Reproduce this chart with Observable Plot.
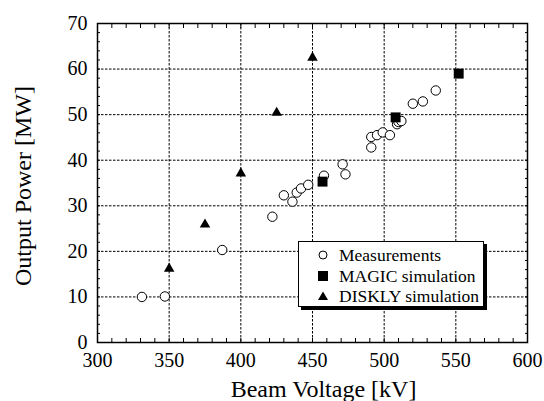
<!DOCTYPE html>
<html>
<head>
<meta charset="utf-8">
<script src="https://cdn.jsdelivr.net/npm/d3@7"></script>
<script src="https://cdn.jsdelivr.net/npm/@observablehq/plot@0.6"></script>
<style>
  html, body { margin: 0; padding: 0; background: #fff; }
  #wrap { position: relative; width: 544px; height: 401px; }
  #legend {
    position: absolute; left: 298px; top: 241px; width: 184px; height: 64px;
    border: 1.5px solid #000; background: #fff; box-shadow: 3px 3px 0 #000;
    font-family: "Liberation Serif", "Times New Roman", serif; font-size: 17.5px; color: #000;
  }
  #legend .row { position: absolute; left: 0; height: 20px; line-height: 20px; white-space: nowrap; }
  #legend svg { position: absolute; left: 17px; top: 3px; }
  #legend span { position: absolute; left: 40px; top: 0; }
</style>
</head>
<body>
<div id="wrap"></div>
<script>
// ---- data ----
const measV = [331, 347, 387, 422, 430, 436, 439, 442, 447, 458, 471, 473, 491, 491, 495, 499, 504, 509, 510, 512, 520, 527, 536];
const measP = [10.0, 10.1, 20.3, 27.6, 32.3, 30.9, 32.9, 33.8, 34.6, 36.6, 39.1, 36.9, 42.8, 45.1, 45.5, 46.1, 45.5, 47.9, 48.4, 48.6, 52.4, 52.9, 55.3];
const magicV = [457, 508, 552];
const magicP = [35.3, 49.4, 59.0];
const disklyV = [350, 375, 400, 425, 450];
const disklyP = [16.2, 25.9, 37.1, 50.4, 62.5];

const xMajor = [300, 350, 400, 450, 500, 550, 600];
const yMajor = [0, 10, 20, 30, 40, 50, 60, 70];
const xGrid = [350, 400, 450, 500, 550];
const yGrid = [10, 20, 30, 40, 50, 60];
const xMinor = d3.range(300, 601, 10);
const yMinor = d3.range(0, 71, 2);

const seriesNames = ["Measurements", "MAGIC simulation", "DISKLY simulation"];
const xLabel = "Beam Voltage [kV]";
const yLabel = "Output Power [MW]";

const meas = measV.map((v, i) => ({v, p: measP[i]}));
const magic = magicV.map((v, i) => ({v, p: magicP[i]}));
const diskly = disklyV.map((v, i) => ({v, p: disklyP[i]}));

const font = "Liberation Serif, Times New Roman, serif";

const chart = Plot.plot({
  width: 544,
  height: 401,
  marginLeft: 97,
  marginRight: 17,
  marginTop: 23,
  marginBottom: 59,
  style: {fontFamily: font, background: "#fff", color: "#000"},
  x: {domain: [300, 600]},
  y: {domain: [0, 70]},
  marks: [
    Plot.gridX(xGrid, {stroke: "#000", strokeOpacity: 1, strokeWidth: 1, strokeDasharray: "2.5,1.5"}),
    Plot.gridY(yGrid, {stroke: "#000", strokeOpacity: 1, strokeWidth: 1, strokeDasharray: "2.5,1.5"}),
    Plot.axisX(xMinor, {anchor: "bottom", tickSize: -4, text: null, label: null}),
    Plot.axisX(xMinor, {anchor: "top", tickSize: -4, text: null, label: null}),
    Plot.axisY(yMinor, {anchor: "left", tickSize: -3, text: null, label: null}),
    Plot.axisY(yMinor, {anchor: "right", tickSize: -3, text: null, label: null}),
    Plot.axisX(xMajor, {anchor: "bottom", tickSize: 0, tickPadding: 10, fontSize: 20, label: null}),
    Plot.axisY(yMajor, {anchor: "left", tickSize: 0, tickPadding: 10, fontSize: 20, label: null}),
    Plot.frame({stroke: "#000", strokeWidth: 1.5}),
    Plot.dot(meas, {x: "v", y: "p", symbol: "circle", r: 4.7, stroke: "#000", strokeWidth: 1, fill: "#fff"}),
    Plot.dot(magic, {x: "v", y: "p", symbol: "square", r: 5.6, fill: "#000", stroke: "none"}),
    Plot.dot(diskly, {x: "v", y: "p", symbol: "triangle", r: 3.9, fill: "#000", stroke: "none"}),
    Plot.text([xLabel], {frameAnchor: "bottom", text: d => d, dy: 47, dx: 11, fontSize: 24, lineAnchor: "middle", textAnchor: "middle"}),
    Plot.text([yLabel], {frameAnchor: "left", text: d => d, dx: -74, dy: 3, rotate: -90, fontSize: 24, lineAnchor: "middle", textAnchor: "middle"})
  ]
});

const wrap = document.getElementById("wrap");
wrap.appendChild(chart);

// legend
const legend = document.createElement("div");
legend.id = "legend";
const shapes = [
  '<circle cx="7" cy="7" r="4" fill="#fff" stroke="#000" stroke-width="1"/>',
  '<rect x="2" y="2" width="10" height="10" fill="#000"/>',
  '<path d="M7,2.5 L12,11 L2,11 Z" fill="#000"/>'
];
seriesNames.forEach((name, i) => {
  const row = document.createElement("div");
  row.className = "row";
  row.style.top = (3 + i * 20.5) + "px";
  row.style.width = "100%";
  row.innerHTML = `<svg width="14" height="14">${shapes[i]}</svg><span>${name}</span>`;
  legend.appendChild(row);
});
wrap.appendChild(legend);
</script>
</body>
</html>
